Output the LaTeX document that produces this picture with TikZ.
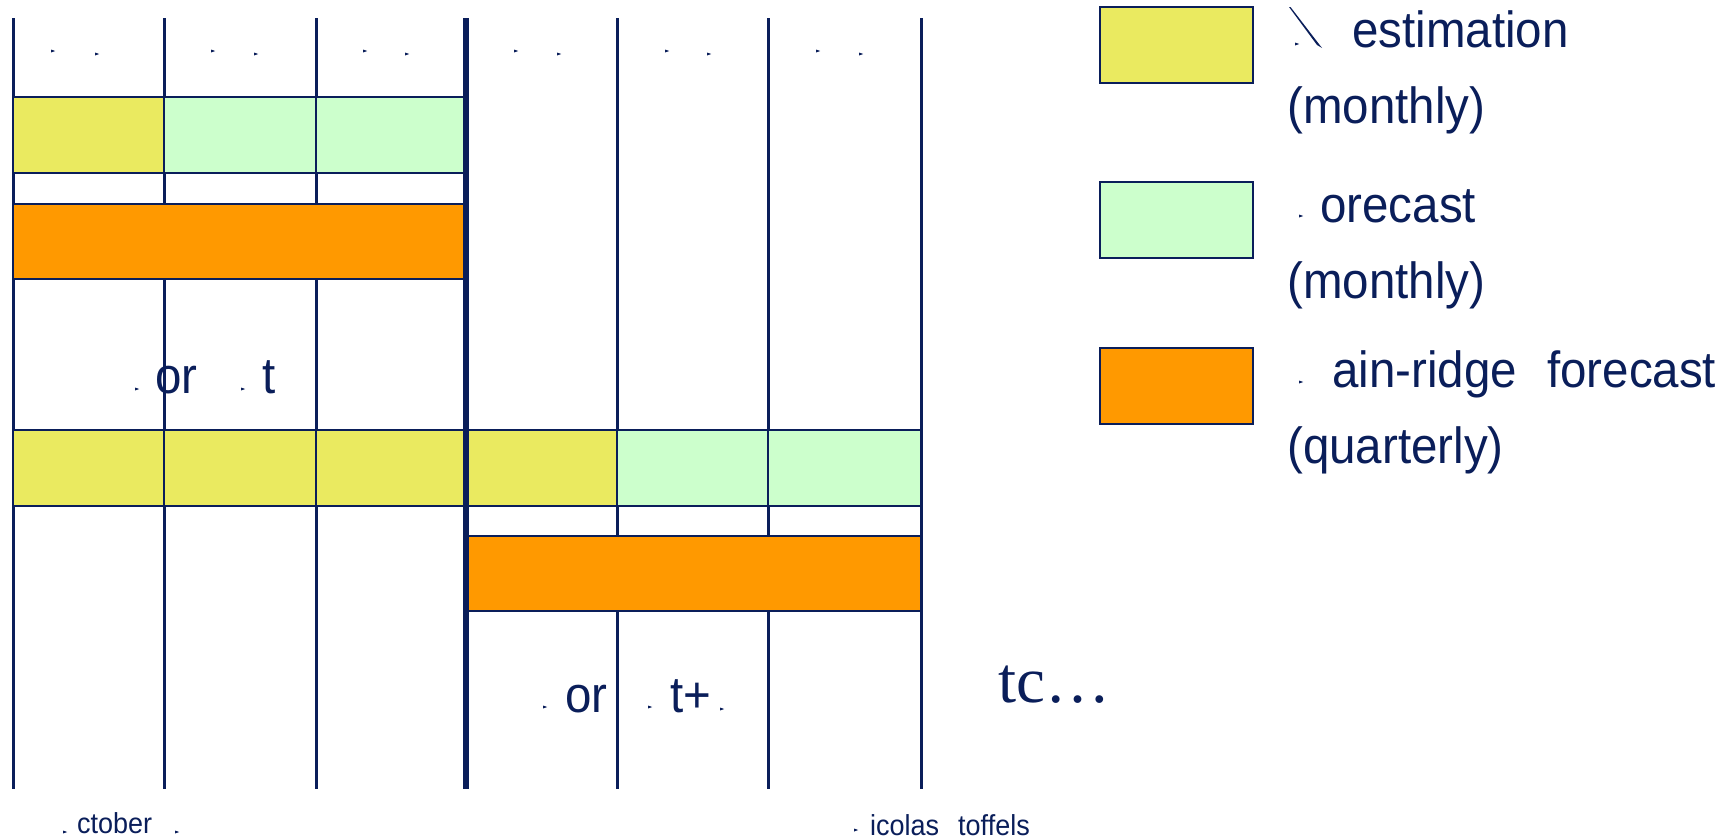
\documentclass[tikz,border=0pt]{standalone}
\usepackage{fontspec}
\setmainfont{Liberation Sans}
\newfontfamily\tcfont{Liberation Serif}
\definecolor{navy}{RGB}{10,30,90}
\definecolor{estyellow}{RGB}{234,234,96}
\definecolor{fcgreen}{RGB}{204,255,204}
\definecolor{qorange}{RGB}{255,153,0}
% slightly tall lettering
\newcommand{\tallt}[1]{\scalebox{1}[1.07]{#1}}
\begin{document}
\begin{tikzpicture}[x=1pt,y=-1pt,
  gridline/.style={navy,line width=3pt},
  cell/.style={draw=navy,line width=2.8pt},
  big/.style={text=navy,inner sep=0pt,anchor=base west,font=\fontsize{47.5}{50}\selectfont},
  small/.style={text=navy,inner sep=0pt,anchor=base west,font=\fontsize{27}{30}\selectfont},
  glyphmark/.pic={\fill[navy] (-2,-1.5) -- (2.2,0) -- (-2,1.5) -- cycle;}
]
\useasboundingbox (0,0) rectangle (1736,838);
\fill[white] (0,0) rectangle (1736,838);

% month columns
\foreach \x in {13,164,316,617,768,921}
  \draw[gridline] (\x,18) -- (\x,789);

% small marks in the header row
\foreach \a/\b in {53/97,213/256,365/407,516/559,667/709,818/861}{
  \pic at (\a,51) {glyphmark};
  \pic at (\b,54) {glyphmark};
}

% first quarter
\draw[cell,fill=estyellow] (13,97) rectangle (164,173);
\draw[cell,fill=fcgreen] (164,97) rectangle (316,173);
\draw[cell,fill=fcgreen] (316,97) rectangle (466,173);
\draw[cell,fill=qorange] (13,204) rectangle (466,279);

% second quarter
\foreach \l/\r in {13/164,164/316,316/466,466/617}
  \draw[cell,fill=estyellow] (\l,430) rectangle (\r,506);
\draw[cell,fill=fcgreen] (617,430) rectangle (768,506);
\draw[cell,fill=fcgreen] (768,430) rectangle (921,506);
\draw[cell,fill=qorange] (466,536) rectangle (921,611);

% quarter boundary
\draw[gridline,line width=6pt] (466,18) -- (466,789);

% labels inside the chart
\pic at (137,389) {glyphmark};
\node[big] (qa) at (155,393) {\tallt{or}};
\pic at (243,389) {glyphmark};
\node[big] (qat) at (262,393) {\tallt{t}};

\pic at (545,707) {glyphmark};
\node[big] (qb) at (565,712) {\tallt{or}};
\pic at (650,707) {glyphmark};
\node[big] (qbt) at (670,712) {\tallt{t+}};
\pic at (722,709) {glyphmark};

\node[text=navy,inner sep=0pt,anchor=base west,font=\tcfont\fontsize{65}{68}\selectfont] (etc) at (998,702) {tc…};

% legend
\draw[cell,fill=estyellow] (1100,7) rectangle (1253,83);
\draw[cell,fill=fcgreen] (1100,182) rectangle (1253,258);
\draw[cell,fill=qorange] (1100,348) rectangle (1253,424);

\fill[navy] (1289,7) -- (1290.5,7) -- (1322,48) -- (1317,45) -- cycle;
\pic at (1297,44) {glyphmark};
\node[big] (est) at (1352,47) {\tallt{estimation}};
\node[big] (estm) at (1287,123) {\tallt{(monthly)}};

\pic at (1301,216) {glyphmark};
\node[big] (fc) at (1320,222) {\tallt{orecast}};
\node[big] (fcm) at (1287,298) {\tallt{(monthly)}};

\pic at (1301,382) {glyphmark};
\node[big] (mr) at (1332,387) {\tallt{ain-ridge}};
\node[big] (mrf) at (1547,387) {\tallt{forecast}};
\node[big] (mrq) at (1287,463) {\tallt{(quarterly)}};

% footer
\pic at (65,832) {glyphmark};
\node[small] (oct) at (77,833) {\tallt{ctober}};
\pic at (177,832) {glyphmark};
\pic at (856,830) {glyphmark};
\node[small] (nic) at (870,835) {\tallt{icolas}};
\node[small] (sto) at (958,835) {\tallt{toffels}};
\end{tikzpicture}
\end{document}
